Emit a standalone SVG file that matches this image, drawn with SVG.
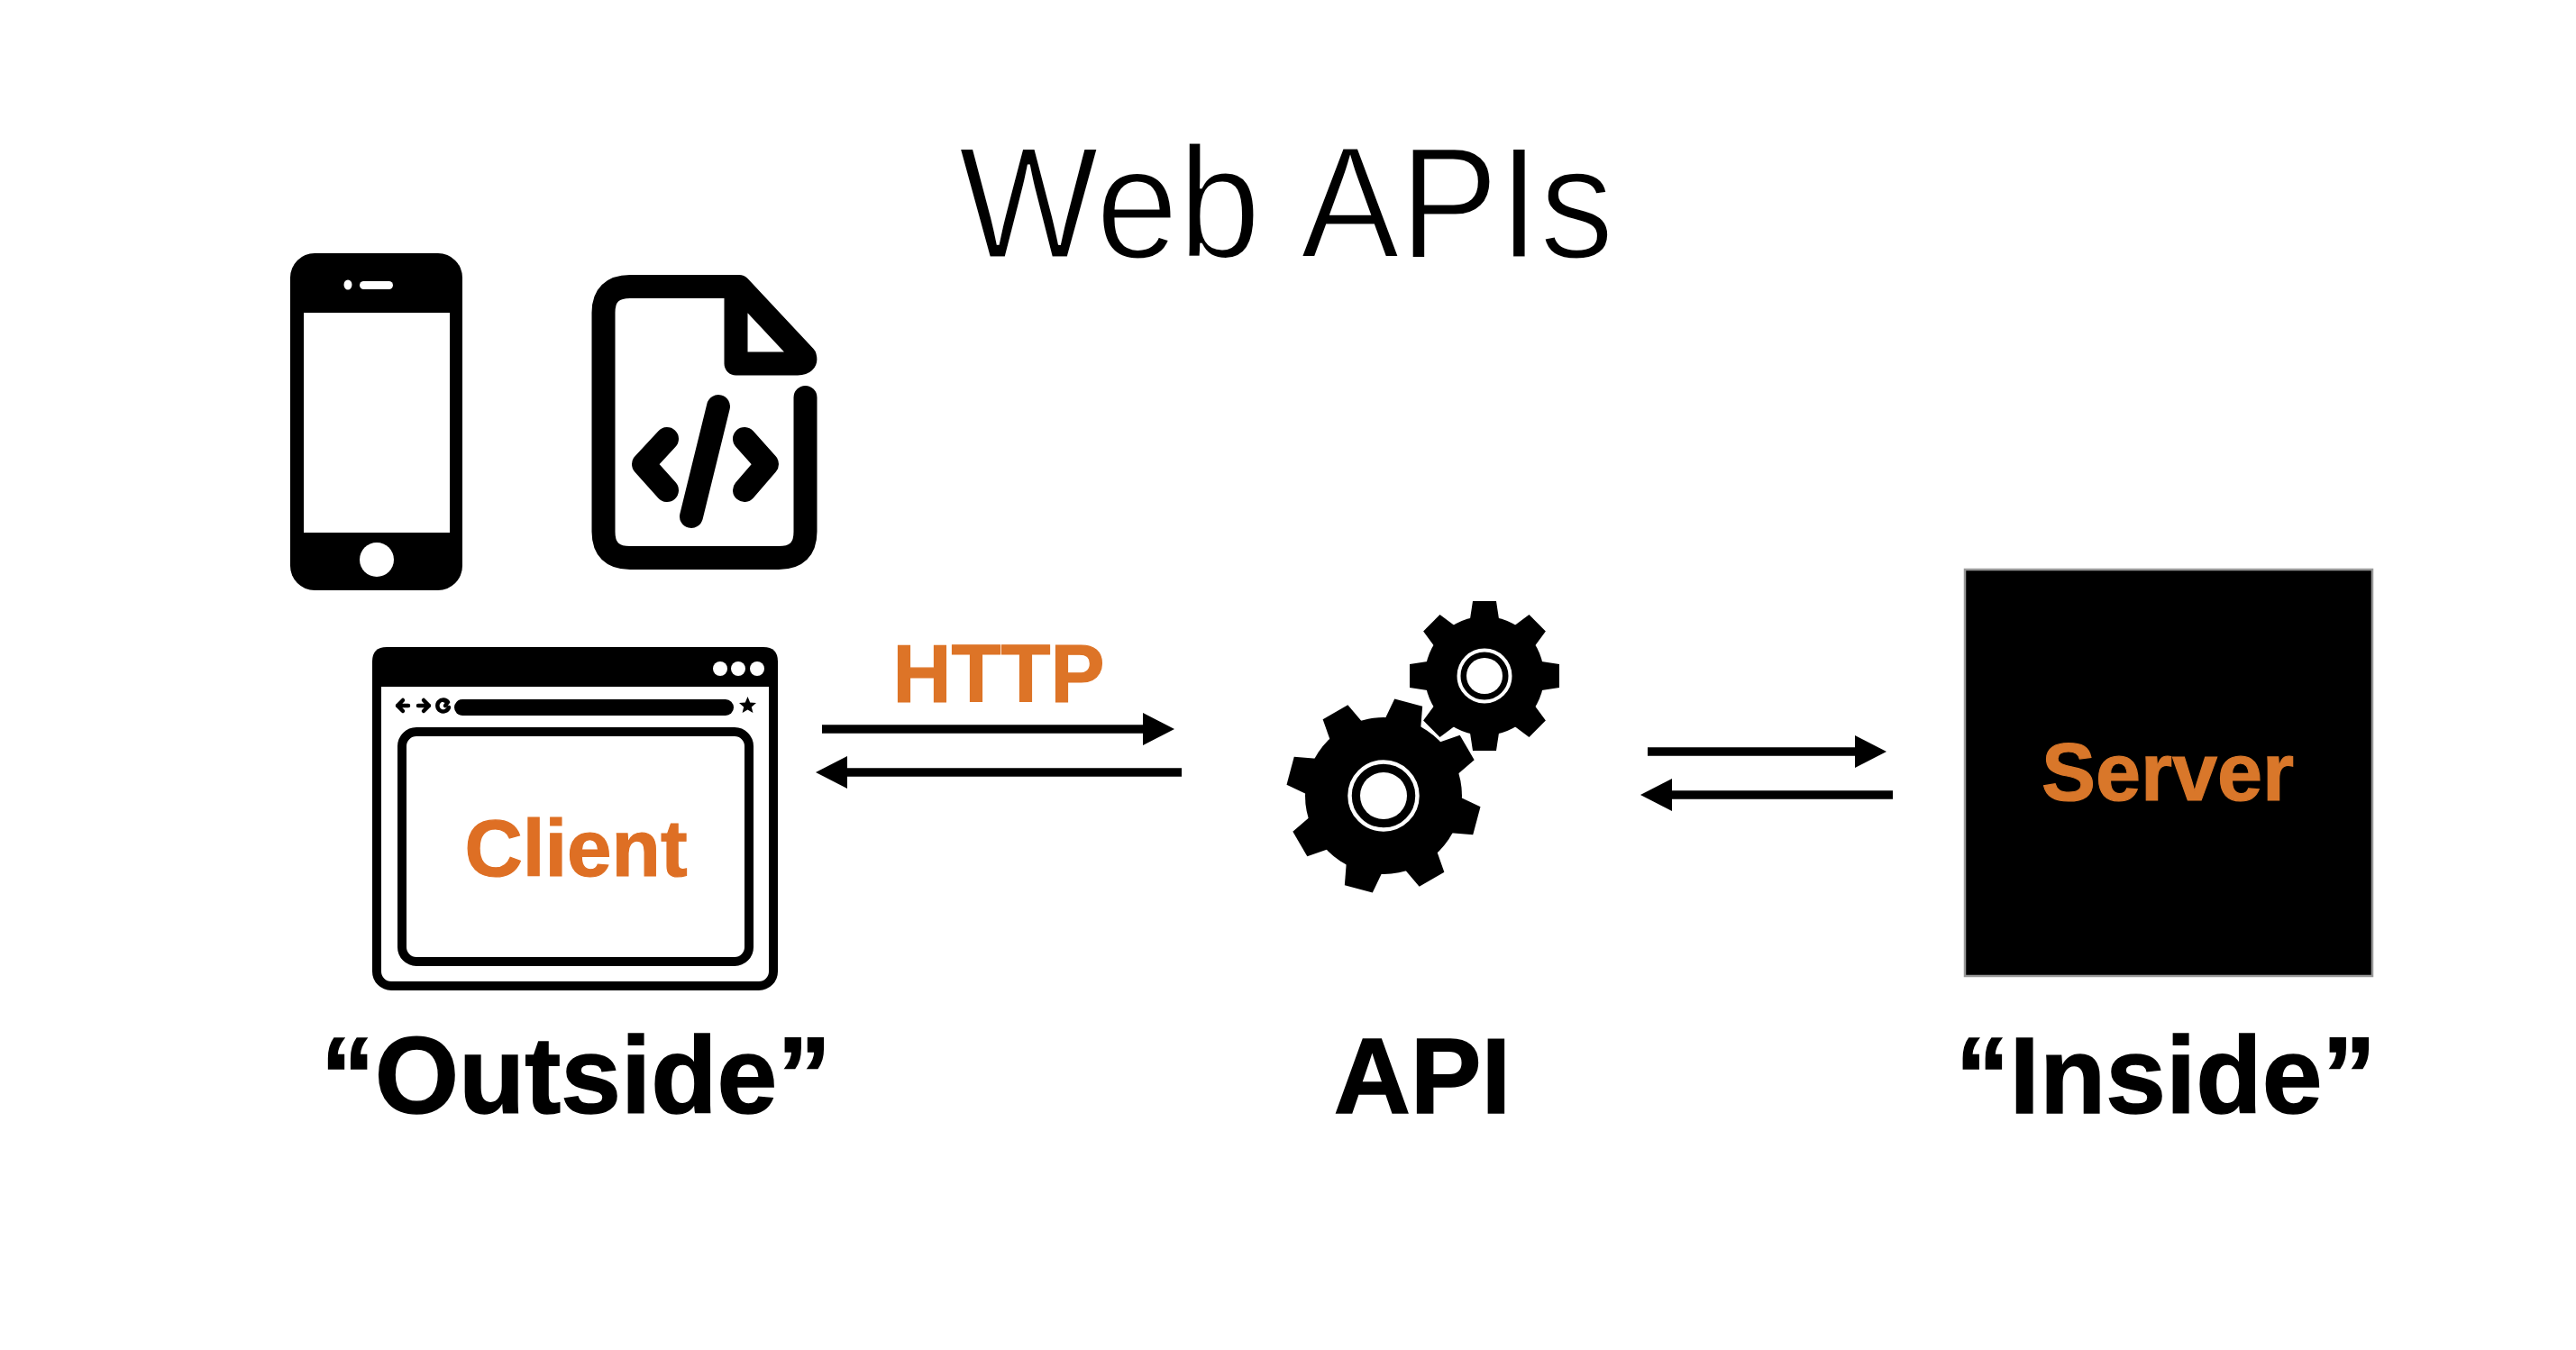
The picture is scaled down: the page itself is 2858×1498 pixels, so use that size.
<svg xmlns="http://www.w3.org/2000/svg" xmlns:xlink="http://www.w3.org/1999/xlink" width="2858" height="1498" viewBox="0 0 2858 1498">
<style>
text{font-family:"Liberation Sans",Arial,sans-serif;font-weight:700;text-anchor:middle}
.title{font-weight:400;font-size:176px;fill:#000;stroke:#fff;stroke-width:3px;word-spacing:8px}
.label{font-size:120px;fill:#000;stroke:#000;stroke-width:1.5px}
.orange{font-size:89px;fill:#DE6F24;stroke:#DE6F24;stroke-width:1.2px}
.wire{fill:none;stroke:#000;stroke-width:9.5;marker-end:url(#head)}
.ink{fill:none;stroke:#000;stroke-width:26;stroke-linecap:round;stroke-linejoin:round}
.thin{fill:none;stroke:#000;stroke-width:4.5;stroke-linecap:round;stroke-linejoin:round}
</style>
<defs>
<marker id="head" markerUnits="userSpaceOnUse" markerWidth="36" markerHeight="38" refX="0" refY="19" orient="auto"><polygon points="0,1 35,19 0,37" fill="#000"/></marker>
<polygon id="tS" points="-13,-83 13,-83 16.5,-60 -16.5,-60" fill="#000"/>
<polygon id="tL" points="-16,-107 16,-107 21,-80 -21,-80" fill="#000"/>
</defs>
<rect width="2858" height="1498" fill="#fff"/>
<g id="title"><text class="title" transform="translate(1427 286) scale(0.935 1)">Web APIs</text></g>
<g id="phone">
<rect x="322" y="281" width="191" height="374" rx="27" fill="#000"/>
<rect x="337" y="347" width="162" height="244" fill="#fff"/>
<ellipse cx="386" cy="316" rx="4.5" ry="5.5" fill="#fff"/>
<rect x="399" y="312" width="37" height="9" rx="4.5" fill="#fff"/>
<circle cx="418" cy="621" r="19" fill="#fff"/>
</g>
<g id="document">
<path class="ink" d="M893.5,441V590Q893.5,619 864,619H699Q669.5,619 669.5,590V347Q669.5,318 699,318H820L893,396Q895,403.5 885,403.5H816.5V318"/>
<path class="ink" d="M740,487L714,515L740,544M826,487L851,515L826,544M797,451L767,573"/>
</g>
<g id="client">
<rect x="418" y="723" width="440" height="371" rx="16" fill="#fff" stroke="#000" stroke-width="10"/>
<path d="M413,762V734Q413,718 429,718H847Q863,718 863,734V762Z" fill="#000"/>
<circle cx="799" cy="742" r="8" fill="#fff"/><circle cx="819" cy="742" r="8" fill="#fff"/><circle cx="840" cy="742" r="8" fill="#fff"/>
<path class="thin" d="M453,783H441M447,777L441,783L447,789M464,783H476M470,777L476,783L470,789"/>
<path class="thin" d="M497,779A6.5,6.5 0 1 0 498,785M492,777L497,779L494,783"/>
<rect x="504" y="776" width="310" height="18" rx="9" fill="#000"/>
<polygon points="829.5,773 832.2,779.5 839,780 833.8,784.4 835.4,791 829.5,787.5 823.6,791 825.2,784.4 820,780 826.8,779.5" fill="#000"/>
<rect x="446" y="812" width="385" height="255" rx="16" fill="none" stroke="#000" stroke-width="10"/>
<text class="orange" x="639" y="972">Client</text>
</g>
<g id="api">
<g transform="translate(1535 883)">
<circle r="87" fill="#000"/>
<use xlink:href="#tL" href="#tL" transform="rotate(15)"/><use xlink:href="#tL" href="#tL" transform="rotate(60)"/><use xlink:href="#tL" href="#tL" transform="rotate(105)"/><use xlink:href="#tL" href="#tL" transform="rotate(150)"/><use xlink:href="#tL" href="#tL" transform="rotate(195)"/><use xlink:href="#tL" href="#tL" transform="rotate(240)"/><use xlink:href="#tL" href="#tL" transform="rotate(285)"/><use xlink:href="#tL" href="#tL" transform="rotate(330)"/>
<circle r="37.5" fill="none" stroke="#fff" stroke-width="4.5"/><circle r="26" fill="#fff"/>
</g>
<g transform="translate(1647 750)">
<circle r="66" fill="#000"/>
<use xlink:href="#tS" href="#tS"/><use xlink:href="#tS" href="#tS" transform="rotate(45)"/><use xlink:href="#tS" href="#tS" transform="rotate(90)"/><use xlink:href="#tS" href="#tS" transform="rotate(135)"/><use xlink:href="#tS" href="#tS" transform="rotate(180)"/><use xlink:href="#tS" href="#tS" transform="rotate(225)"/><use xlink:href="#tS" href="#tS" transform="rotate(270)"/><use xlink:href="#tS" href="#tS" transform="rotate(315)"/>
<circle r="28.5" fill="none" stroke="#fff" stroke-width="4"/><circle r="20" fill="#fff"/>
</g>
</g>
<g id="server">
<rect x="2180" y="632" width="452" height="451" fill="#000" stroke="#999" stroke-width="2.5"/>
<text class="orange" x="2405" y="888" style="fill:#D9772A;stroke:#D9772A;font-size:90px">Server</text>
</g>
<g id="connectors">
<line class="wire" x1="912" y1="809" x2="1268" y2="809"/>
<line class="wire" x1="1311" y1="857" x2="940" y2="857"/>
<line class="wire" x1="1828" y1="834" x2="2058" y2="834"/>
<line class="wire" x1="2100" y1="882" x2="1855" y2="882"/>
<text class="orange" x="1108" y="779" style="fill:#DD7427;stroke:#DD7427;font-size:90px">HTTP</text>
</g>
<g id="labels">
<text class="label" x="639" y="1235">“Outside”</text>
<text class="label" x="1578" y="1235" style="font-size:118px">API</text>
<text class="label" x="2403" y="1235">“Inside”</text>
</g>
</svg>
